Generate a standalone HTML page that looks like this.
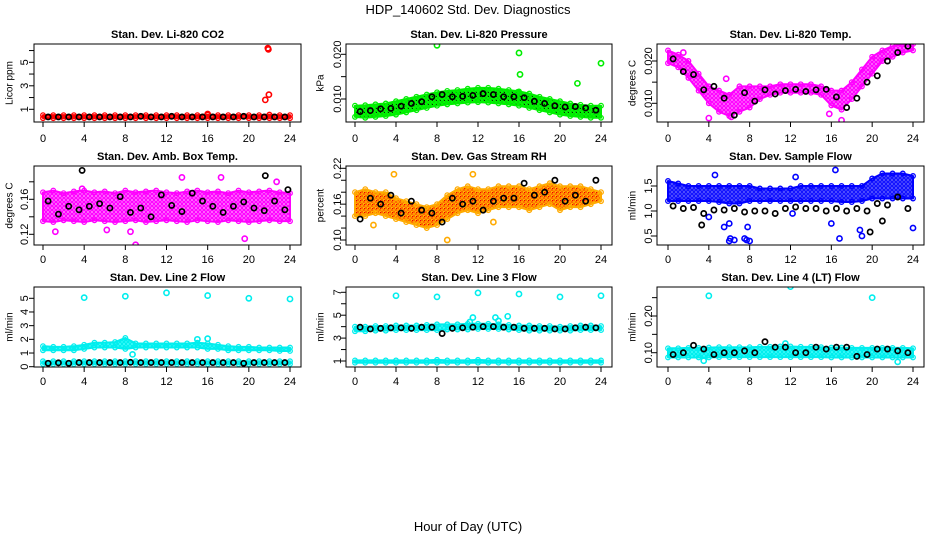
<!DOCTYPE html>
<html><head><meta charset="utf-8"><style>
body{margin:0;background:#fff}
svg{display:block;font-family:"Liberation Sans",sans-serif}
</style></head><body>
<svg id="c" width="936" height="540" viewBox="0 0 936 540">
<defs id="defs"></defs>
<text x="468" y="14" text-anchor="middle" font-size="13">HDP_140602  Std. Dev. Diagnostics</text>
<text x="468" y="531" text-anchor="middle" font-size="13">Hour of Day (UTC)</text>
</svg>
<script>
const hours=[0,1,2,3,4,5,6,7,8,9,10,11,12,13,14,15,16,17,18,19,20,21,22,23,24];
const blackHours=[0.5,1.5,2.5,3.5,4.5,5.5,6.5,7.5,8.5,9.5,10.5,11.5,12.5,13.5,14.5,15.5,16.5,17.5,18.5,19.5,20.5,21.5,22.5,23.5];
const xTicks=[0,4,8,12,16,20,24];

const co2Lo=[0.25,0.25,0.25,0.25,0.25,0.25,0.25,0.25,0.25,0.25,0.25,0.25,0.25,0.25,0.25,0.25,0.25,0.25,0.25,0.25,0.25,0.25,0.25,0.25,0.25];
const co2Hi=[0.5,0.5,0.5,0.5,0.5,0.5,0.5,0.5,0.5,0.5,0.5,0.5,0.5,0.5,0.5,0.5,0.55,0.5,0.5,0.5,0.5,0.5,0.55,0.5,0.5];
const co2Black=[0.35,0.35,0.35,0.35,0.35,0.35,0.35,0.35,0.35,0.4,0.35,0.35,0.4,0.35,0.35,0.35,0.35,0.35,0.35,0.4,0.35,0.35,0.35,0.35];
const co2Out=[[21.85,6.2],[21.9,6.1],[21.95,2.25],[21.6,1.8],[16,0.6]];

const presLo=[6.0,5.8,6.0,6.2,6.5,7.0,7.5,8.0,8.5,8.8,9.0,9.2,9.3,9.2,9.0,8.8,8.5,8.0,7.5,7.0,6.5,6.2,6.0,5.8,5.8];
const presHi=[8.5,8.6,8.8,9.0,9.5,10.0,10.5,11.0,11.5,11.8,12.0,12.3,12.5,12.5,12.3,12.0,11.7,11.2,10.5,10.0,9.5,9.0,8.7,8.5,8.5];
const presBlack=[7.2,7.4,7.8,7.9,8.4,9.0,9.4,10.5,11.0,10.5,10.6,10.8,11.2,11.0,10.5,10.5,10.3,9.5,9.0,8.5,8.2,8.3,8.0,7.5];
const presOut=[[8,22],[16,20.3],[24,18],[16.1,15.5],[21.7,13.5],[15.9,11.5]];

const tempLo=[19.5,18.5,16,13,10,8,7,8,9,11,12,12.5,12.5,12.5,12.5,12,9.5,8.5,11,14,17,20,21,22,22.5];
const tempHi=[22.5,21.5,20,17,14,13,12,14,14,14,14,14.5,14.5,14.5,14.5,14,13,13,15,18,21,22.5,23.5,24,24];
const tempBlack=[20.5,17.5,16.8,13.2,14,11.2,7.2,12.5,10.5,13.2,12.2,13.0,13.3,12.8,13.2,13.3,11.5,9,11.2,15,16.5,20,22,23.5];
const tempOut=[[4,6.5],[6.2,6.8],[17,6],[15.8,7.5],[1.5,22],[5.7,15.8]];

const boxLo=[0.135,0.134,0.136,0.135,0.134,0.136,0.135,0.134,0.135,0.136,0.134,0.135,0.136,0.135,0.134,0.136,0.135,0.134,0.136,0.135,0.134,0.135,0.136,0.135,0.135];
const boxHi=[0.168,0.170,0.167,0.169,0.170,0.168,0.169,0.167,0.170,0.168,0.169,0.170,0.168,0.167,0.169,0.170,0.168,0.169,0.167,0.170,0.168,0.169,0.170,0.168,0.167];
const boxBlack=[0.158,0.143,0.152,0.148,0.152,0.155,0.150,0.163,0.145,0.150,0.140,0.165,0.153,0.146,0.167,0.158,0.152,0.145,0.152,0.157,0.150,0.147,0.158,0.148];
const boxOut=[[3.8,0.172],[9,0.108],[19.6,0.115],[1.2,0.123],[6.2,0.125],[13.5,0.185],[17.3,0.185],[22.7,0.18],[8.5,0.123]];
const boxBlackOut=[[3.8,0.193],[21.6,0.187],[23.8,0.171]];

const rhLo=[.14,.14,.145,.14,.135,.13,.125,.12,.125,.135,.145,.15,.145,.15,.155,.155,.155,.15,.155,.16,.15,.155,.155,.16,.165];
const rhHi=[.18,.185,.18,.18,.17,.165,.16,.155,.16,.175,.185,.19,.185,.185,.19,.19,.19,.185,.19,.195,.19,.19,.19,.185,.18];
const rhBlack=[.135,.17,.16,.175,.145,.165,.15,.145,.13,.17,.16,.165,.15,.165,.17,.17,.195,.175,.18,.2,.165,.175,.165,.2];
const rhOut=[[3.8,.21],[9,.1],[11.5,.21],[1.8,.125],[13.5,.13]];

const flowLo=[1.2,1.2,1.2,1.2,1.2,1.18,1.15,1.15,1.2,1.2,1.2,1.2,1.2,1.2,1.2,1.2,1.2,1.18,1.18,1.2,1.25,1.25,1.25,1.25,1.25];
const flowHi=[1.6,1.55,1.5,1.5,1.5,1.5,1.5,1.5,1.5,1.45,1.45,1.45,1.45,1.5,1.5,1.5,1.5,1.5,1.5,1.5,1.65,1.75,1.75,1.75,1.7];
const flowBlack=[1.1,1.05,1.07,0.95,1.02,1.02,1.05,0.98,1.0,1.0,0.95,1.05,1.08,1.05,1.05,1.0,1.05,1.0,1.05,1.0,1.15,1.12,1.28,1.05];
const flowOut=[[6,0.4],[6.1,0.45],[6.5,0.42],[7.5,0.45],[7.7,0.42],[8,0.4],[5.5,0.68],[7.8,0.68],[6,0.75],[16.8,0.45],[19,0.5],[18.8,0.62],[24,0.66],[4,0.88],[16,0.75],[12.2,0.95],[16.4,1.82],[4.6,1.72],[12.5,1.68]];
const flowBlackOut=[[3.3,0.72],[19.8,0.58],[21,0.8]];

const l2Lo=[1.2,1.2,1.2,1.2,1.3,1.4,1.4,1.4,1.3,1.4,1.4,1.4,1.4,1.4,1.4,1.4,1.3,1.3,1.2,1.2,1.2,1.2,1.2,1.15,1.15];
const l2Hi=[1.5,1.45,1.45,1.5,1.6,1.75,1.75,1.8,2.1,1.7,1.7,1.7,1.7,1.7,1.7,1.75,1.7,1.6,1.5,1.45,1.45,1.4,1.4,1.4,1.4];
const l2LowLo=[0.2,0.2,0.2,0.2,0.2,0.2,0.2,0.2,0.2,0.2,0.2,0.2,0.2,0.2,0.2,0.2,0.2,0.2,0.2,0.2,0.2,0.2,0.2,0.2,0.2];
const l2LowHi=[0.4,0.4,0.4,0.4,0.4,0.4,0.4,0.4,0.4,0.4,0.4,0.4,0.4,0.4,0.4,0.4,0.4,0.4,0.4,0.4,0.4,0.4,0.4,0.4,0.4];
const l2Black=[0.25,0.28,0.25,0.3,0.3,0.3,0.3,0.3,0.32,0.3,0.3,0.3,0.3,0.3,0.3,0.3,0.3,0.3,0.3,0.25,0.3,0.3,0.3,0.3];
const l2Out=[[4,5.05],[8,5.15],[12,5.4],[16,5.2],[20,5.0],[24,4.95],[16,2.05],[15,2],[8.7,0.9]];

const l3Lo=[3.6,3.6,3.65,3.65,3.7,3.7,3.7,3.7,3.7,3.75,3.75,3.75,3.8,3.8,3.8,3.75,3.7,3.65,3.65,3.65,3.65,3.65,3.7,3.7,3.7];
const l3Hi=[4.0,4.0,4.05,4.05,4.1,4.1,4.1,4.15,4.2,4.2,4.2,4.25,4.25,4.25,4.2,4.15,4.1,4.1,4.05,4.05,4.0,4.05,4.1,4.1,4.05];
const l3LowLo=[0.85,0.85,0.85,0.85,0.85,0.85,0.85,0.85,0.85,0.85,0.85,0.85,0.85,0.85,0.85,0.85,0.85,0.85,0.85,0.85,0.85,0.85,0.85,0.85,0.85];
const l3LowHi=[1.05,1.05,1.05,1.05,1.05,1.05,1.05,1.05,1.1,1.05,1.05,1.05,1.1,1.05,1.05,1.05,1.05,1.05,1.05,1.05,1.05,1.05,1.05,1.05,1.05];
const l3Black=[3.95,3.8,3.85,3.9,3.9,3.85,3.95,3.95,3.4,3.85,3.9,3.95,4.0,4.0,3.95,3.95,3.85,3.85,3.85,3.8,3.8,3.9,3.95,3.9];
const l3Out=[[4,6.7],[8,6.6],[12,6.95],[16,6.85],[20,6.6],[24,6.7],[11.5,4.8],[13.7,4.8],[14.9,4.9],[14,4.5],[11.2,4.4]];

const l4Lo=[0.087,0.087,0.087,0.087,0.087,0.088,0.088,0.088,0.088,0.088,0.088,0.088,0.088,0.088,0.088,0.088,0.087,0.087,0.087,0.087,0.087,0.087,0.087,0.087,0.087];
const l4Hi=[0.112,0.112,0.113,0.113,0.114,0.115,0.115,0.115,0.115,0.116,0.116,0.117,0.117,0.116,0.116,0.115,0.114,0.114,0.113,0.113,0.113,0.113,0.113,0.113,0.112];
const l4Black=[0.095,0.1,0.12,0.11,0.095,0.1,0.1,0.105,0.1,0.13,0.115,0.115,0.1,0.1,0.115,0.11,0.115,0.115,0.09,0.095,0.11,0.11,0.105,0.1];
const l4Out=[[4,0.255],[12,0.28],[20,0.25],[22.5,0.075],[3.5,0.078],[11.5,0.125]];

const NS='http://www.w3.org/2000/svg';
const svg=document.getElementById('c');
const defs=document.getElementById('defs');
function mk(tag,attrs,parent){const e=document.createElementNS(NS,tag);for(const k in attrs)e.setAttribute(k,attrs[k]);(parent||svg).appendChild(e);return e;}

const cols=[{bx0:34,bx1:301,x0:43,x1:290,lab:25,tit:10},{bx0:346,bx1:612,x0:355,x1:601,lab:338,tit:321},{bx0:657,bx1:924,x0:668,x1:913,lab:649,tit:633}];
const rows=[{by0:44,by1:122,ty:38,xl:142},{by0:166,by1:245,ty:160,xl:263},{by0:287,by1:367,ty:281,xl:385}];

const panels=[
 {name:'co2',title:'Stan. Dev. Li-820 CO2',ylab:'Licor ppm',c:0,r:0,v0:1,p0:109.3,v1:5,p1:62.3,ticks:[1,2,3,4,5,6],labels:['1','','3','','5',''],col:'#ff0000',bg:'#ff6666',dot:'#ff0000',bands:[[co2Lo,co2Hi]],black:co2Black,out:co2Out},
 {name:'pressure',title:'Stan. Dev. Li-820 Pressure',ylab:'kPa',c:1,r:0,v0:10,p0:99,v1:20,p1:54.3,ticks:[10,15,20],labels:['0.010','','0.020'],col:'#00ee00',bg:'#11aa11',dot:'#00ff00',bands:[[presLo,presHi]],black:presBlack,out:presOut},
 {name:'temp',title:'Stan. Dev. Li-820 Temp.',ylab:'degrees C',c:2,r:0,v0:10,p0:103.3,v1:20,p1:61,ticks:[10,15,20],labels:['0.010','','0.020'],col:'#ff00ff',bg:'#ff99ff',dot:'#ff00ff',bands:[[tempLo,tempHi]],black:tempBlack,out:tempOut},
 {name:'box-temp',title:'Stan. Dev. Amb. Box Temp.',ylab:'degrees C',c:0,r:1,v0:0.12,p0:234.3,v1:0.16,p1:199.3,ticks:[0.12,0.14,0.16,0.18],labels:['0.12','','0.16',''],col:'#ff00ff',bg:'#ffaaff',dot:'#ff00ff',bands:[[boxLo,boxHi]],black:boxBlack,out:boxOut,blackOut:boxBlackOut},
 {name:'rh',title:'Stan. Dev. Gas Stream RH',ylab:'percent',c:1,r:1,v0:0.10,p0:240,v1:0.22,p1:168.3,ticks:[0.10,0.12,0.14,0.16,0.18,0.20,0.22],labels:['0.10','','','0.16','','','0.22'],col:'#ffaa00',bg:'#ffee00',dot:'#ff6600',bands:[[rhLo,rhHi]],black:rhBlack,out:rhOut},
 {name:'sample-flow',title:'Stan. Dev. Sample Flow',ylab:'ml/min',c:2,r:1,v0:0.5,p0:236,v1:1.5,p1:186,ticks:[0.5,1.0,1.5],labels:['0.5','1.0','1.5'],col:'#0000ff',bg:'#7777ff',dot:'#1111ff',bands:[[flowLo,flowHi]],black:flowBlack,out:flowOut,blackOut:flowBlackOut},
 {name:'line2-flow',title:'Stan. Dev. Line 2 Flow',ylab:'ml/min',c:0,r:2,v0:0,p0:366.7,v1:5,p1:298.3,ticks:[0,1,2,3,4,5],labels:['0','1','2','3','4','5'],col:'#00eeee',bg:'#55ffff',dot:'#00eeee',bands:[[l2Lo,l2Hi],[l2LowLo,l2LowHi]],black:l2Black,out:l2Out},
 {name:'line3-flow',title:'Stan. Dev. Line 3 Flow',ylab:'ml/min',c:1,r:2,v0:1,p0:361,v1:7,p1:292.3,ticks:[1,2,3,4,5,6,7],labels:['1','','3','','5','','7'],col:'#00eeee',bg:'#55ffff',dot:'#00eeee',bands:[[l3Lo,l3Hi],[l3LowLo,l3LowHi]],black:l3Black,out:l3Out},
 {name:'line4-flow',title:'Stan. Dev. Line 4 (LT) Flow',ylab:'ml/min',c:2,r:2,v0:0.10,p0:352.7,v1:0.20,p1:316,ticks:[0.10,0.15,0.20,0.25],labels:['0.10','','0.20',''],col:'#00eeee',bg:'#55ffff',dot:'#00eeee',bands:[[l4Lo,l4Hi]],black:l4Black,out:l4Out}
];

panels.forEach(p=>{
 const pat=mk('pattern',{id:'pat-'+p.name,width:4,height:4,patternUnits:'userSpaceOnUse'},defs);
 mk('rect',{width:4,height:4,fill:p.bg},pat);
 mk('circle',{cx:2,cy:2,r:1.4,fill:'none',stroke:p.dot,'stroke-width':1.4},pat);
 if(p.name==='pressure') mk('rect',{x:0,y:0,width:1,height:1,fill:'#003300'},pat);
 if(p.name==='rh') mk('rect',{x:0,y:0,width:1,height:1,fill:'#ee0000'},pat);

 const C=cols[p.c],R=rows[p.r];
 const xs=h=>C.x0+(C.x1-C.x0)*h/24;
 const ys=v=>p.p0+(p.p1-p.p0)*(v-p.v0)/(p.v1-p.v0);
 const g=mk('g',{});
 
 
 const clip=mk('clipPath',{id:'cl-'+p.name},g);
 mk('rect',{x:C.bx0,y:R.by0,width:C.bx1-C.bx0,height:R.by1-R.by0},clip);
 const data=mk('g',{'clip-path':'url(#cl-'+p.name+')'},g);
 
 
 p.bands.forEach(([lo,hi])=>{
  let pts=hours.map((h,i)=>xs(h)+','+ys(hi[i]));
  pts=pts.concat(hours.slice().reverse().map((h,j)=>xs(h)+','+ys(lo[hours.length-1-j])));
  const poly=mk('polygon',{points:pts.join(' '),fill:'url(#pat-'+p.name+')',stroke:p.col,'stroke-width':2,'stroke-linejoin':'round'},data);
  
  
  hours.forEach((h,i)=>{
   [lo[i],hi[i]].forEach(v=>{
    const c=mk('circle',{cx:xs(h),cy:ys(v),r:2.3,fill:'none',stroke:p.col,'stroke-width':1.3},data);
    
    
   });
  });
 });
 p.out.forEach(([h,v])=>{
  const c=mk('circle',{cx:xs(h),cy:ys(v),r:2.6,fill:'none',stroke:p.col,'stroke-width':1.6},data);
  
  
 });
 p.black.forEach((v,i)=>{
  const c=mk('circle',{cx:xs(blackHours[i]),cy:ys(v),r:2.6,fill:'none',stroke:'#000','stroke-width':1.7},data);
  
  
 });
 (p.blackOut||[]).forEach(([h,v])=>{
  const c=mk('circle',{cx:xs(h),cy:ys(v),r:2.6,fill:'none',stroke:'#000','stroke-width':1.7},data);
  
  
 });
 const box=mk('rect',{x:C.bx0,y:R.by0,width:C.bx1-C.bx0,height:R.by1-R.by0,fill:'none',stroke:'#000','stroke-width':1},g);
 
 
 const t=mk('text',{x:(C.bx0+C.bx1)/2,y:R.ty,'text-anchor':'middle','font-size':11,'font-weight':'bold'},g);
 t.textContent=p.title;
 
 
 mk('line',{x1:xs(0),x2:xs(24),y1:R.by1,y2:R.by1,stroke:'#000'},g);
 xTicks.forEach(h=>{
  mk('line',{x1:xs(h),x2:xs(h),y1:R.by1,y2:R.by1+5,stroke:'#000'},g);
  const l=mk('text',{x:xs(h),y:R.xl,'text-anchor':'middle','font-size':11},g);
  l.textContent=h;
  
  
 });
 const yt=p.ticks.map(ys).filter(y=>y>=R.by0-1&&y<=R.by1+1);
 mk('line',{x1:C.bx0,x2:C.bx0,y1:Math.min(...yt),y2:Math.max(...yt),stroke:'#000'},g);
 p.ticks.forEach((v,i)=>{
  const y=ys(v); if(y<R.by0-1||y>R.by1+1)return;
  mk('line',{x1:C.bx0-5,x2:C.bx0,y1:y,y2:y,stroke:'#000'},g);
  if(p.labels[i]){
   const l=mk('text',{x:C.lab,y:y,'text-anchor':'middle','font-size':11,transform:`rotate(-90 ${C.lab} ${y})`,'dominant-baseline':'central'},g);
   l.textContent=p.labels[i];
   
   
  }
 });
 const yc=(R.by0+R.by1)/2;
 const yl=mk('text',{x:C.tit,y:yc,'text-anchor':'middle','font-size':10,transform:`rotate(-90 ${C.tit} ${yc})`,'dominant-baseline':'central'},g);
 yl.textContent=p.ylab;
 
 
});
</script>
</body></html>
